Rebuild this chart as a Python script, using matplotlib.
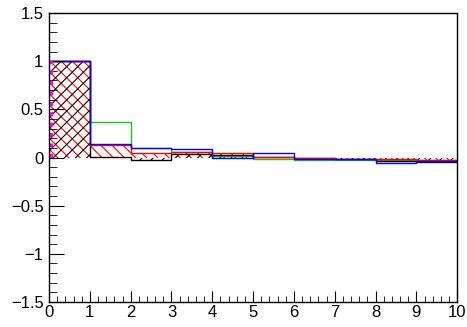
import matplotlib
matplotlib.use('Agg')
import matplotlib.pyplot as plt
import numpy as np
from matplotlib.ticker import MultipleLocator, FuncFormatter

plt.rcParams['font.family'] = ['Liberation Sans', 'DejaVu Sans']
plt.rcParams['hatch.linewidth'] = 0.8

edges = np.arange(0, 11, 1)
h_black = [1.0, 0.01, -0.03, 0.04, 0.025, 0.01, -0.01, -0.015, -0.04, -0.045]
h_red = [1.0, 0.13, 0.05, 0.06, 0.05, 0.01, -0.01, -0.02, -0.012, -0.03]
h_green = [1.0, 0.37, 0.10, 0.06, 0.015, -0.015, -0.03, -0.03, -0.03, -0.03]
h_blue = [1.0, 0.145, 0.095, 0.09, 0.0, 0.05, -0.015, -0.015, -0.055, -0.04]


def fmt(v, p):
    return ('%g' % v).replace('-', '\u2212')


fig = plt.figure(figsize=(4.67, 3.27), dpi=100)
ax = fig.add_axes([0.105, 0.0765, 0.874, 0.8835])

# hatched fills
ax.stairs(h_red, edges, baseline=0, fill=True, facecolor='none',
          edgecolor='red', hatch='\\\\\\', linewidth=0)
ax.stairs(h_black, edges, baseline=0, fill=True, facecolor='none',
          edgecolor='black', hatch='///', linewidth=0)

# outlines
ax.stairs(h_green, edges, baseline=None, color='#22bb22', linewidth=1)
ax.stairs(h_black, edges, baseline=None, color='black', linewidth=1)
ax.stairs(h_red, edges, baseline=None, color='red', linewidth=1)
ax.stairs(h_blue, edges, baseline=None, color='blue', linewidth=1)

# magenta dotted strip at the left edge
ax.plot([0.05, 0.05], [0, 1], color='magenta', linewidth=3, linestyle=(0, (1, 1.5)))

ax.set_xlim(0, 10)
ax.set_ylim(-1.5, 1.5)
ax.xaxis.set_major_locator(MultipleLocator(1))
ax.xaxis.set_minor_locator(MultipleLocator(0.2))
ax.yaxis.set_major_locator(MultipleLocator(0.5))
ax.yaxis.set_minor_locator(MultipleLocator(0.1))
ax.yaxis.set_major_formatter(FuncFormatter(fmt))
ax.xaxis.set_major_formatter(FuncFormatter(fmt))
ax.tick_params(which='both', direction='in', top=False, right=False, labelsize=12)
ax.tick_params(axis='x', which='major', length=8, pad=2)
ax.tick_params(axis='x', which='minor', length=4)
ax.tick_params(axis='y', which='major', length=11, pad=4)
ax.tick_params(axis='y', which='minor', length=5.5)
for s in ax.spines.values():
    s.set_linewidth(1)

fig.savefig('out.png', dpi=100)
